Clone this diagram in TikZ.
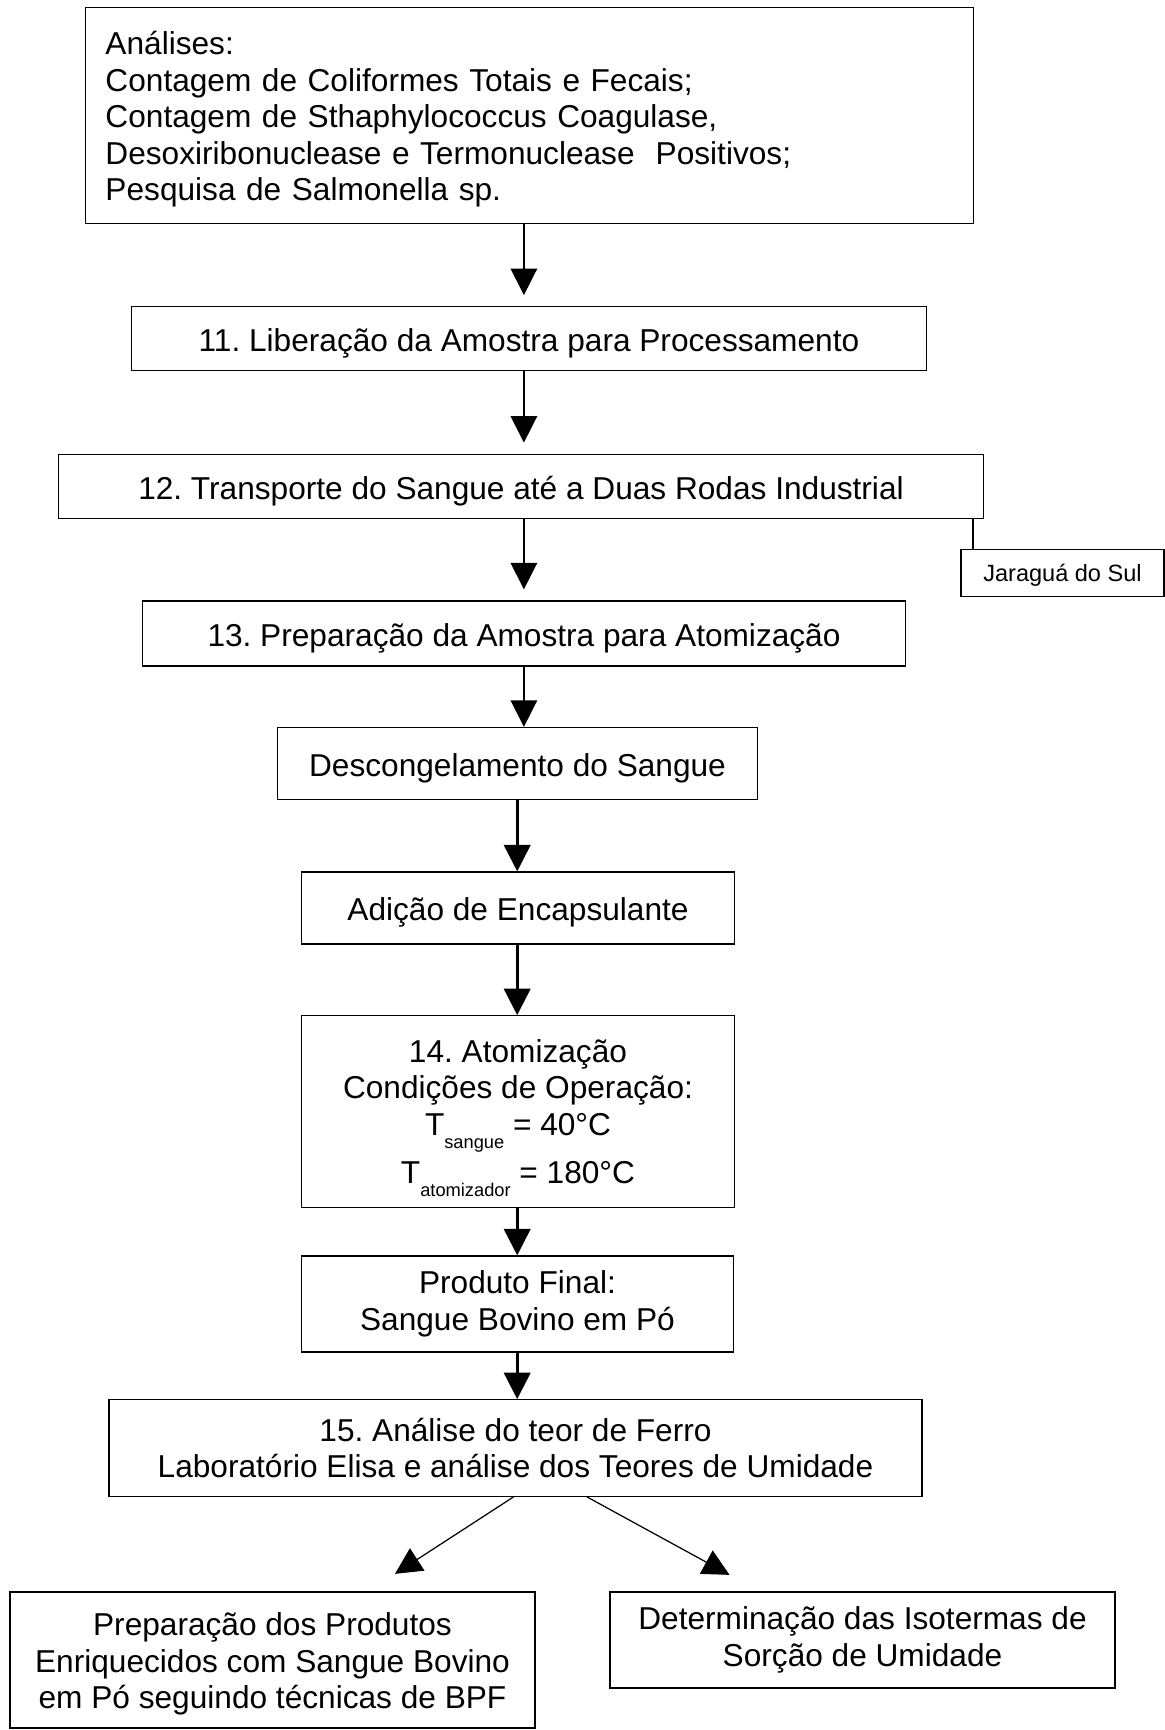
\documentclass[tikz,border=0pt]{standalone}
\usepackage{fontspec}
\setmainfont{Liberation Sans}
\usetikzlibrary{arrows.meta,positioning,calc}
\frenchspacing

\newcommand{\subtxt}[1]{\raisebox{-0.26cm}[0pt][0pt]{\fontsize{10.4}{12}\selectfont #1}}

\begin{document}
\begin{tikzpicture}[
    font=\fontsize{18}{20.8}\selectfont,
    box/.style={
        draw=black,
        line width=0.75pt,
        inner sep=0pt,
        align=center
    },
    line/.style={
        box,
        text height=18.4pt,
        text depth=3.8pt
    },
    tag/.style={
        draw=black,
        line width=0.75pt,
        inner sep=0pt,
        text height=12.9pt,
        text depth=2.8pt,
        font=\fontsize{13.4}{15}\selectfont
    },
    arr/.style={-{Triangle[length=0.53cm,width=0.53cm]}, line width=0.85pt},
    arrb/.style={arr, line width=1.5pt},
    arrd/.style={arr, line width=0.7pt}
]
\useasboundingbox (0,0) rectangle (23.3,-34.6);

% analyses
\node[box, minimum width=17.76cm, minimum height=4.32cm, text width=16.96cm, align=left] (ana) at (10.59,-2.31)
{\rule{0pt}{0.62cm}Análises:\\
Contagem de Coliformes Totais e Fecais;\\
Contagem de Sthaphylococcus Coagulase,\\
Desoxiribonuclease e Termonuclease\ \ Positivos;\\
Pesquisa de Salmonella sp.};

% steps 11 to 13
\node[line, minimum width=15.89cm, minimum height=1.29cm] (lib) at (10.58,-6.77)
{11. Liberação da Amostra para Processamento};

\node[line, minimum width=18.51cm, minimum height=1.29cm] (trans) at (10.42,-9.73)
{12. Transporte do Sangue até a Duas Rodas Industrial};

\node[tag, minimum width=4.06cm, minimum height=0.95cm] (jar) at (21.25,-11.46)
{Jaraguá do Sul};

\node[line, minimum width=15.26cm, minimum height=1.30cm] (prep) at (10.48,-12.67)
{13. Preparação da Amostra para Atomização};

\node[line, minimum width=9.61cm, minimum height=1.44cm] (desc) at (10.35,-15.27)
{Descongelamento do Sangue};

\node[line, minimum width=8.65cm, minimum height=1.44cm] (enc) at (10.36,-18.16)
{Adição de Encapsulante};

% atomization
\node[box, minimum width=8.65cm, minimum height=3.83cm] (atom) at (10.36,-22.23)
{14. Atomização\\
Condições de Operação:\\
T\subtxt{sangue} = 40°C\\[0.23cm]
T\subtxt{atomizador} = 180°C};

\node[box, minimum width=8.64cm, minimum height=1.92cm] (final) at (10.35,-26.08)
{Produto Final:\\
Sangue Bovino em Pó};

\node[box, minimum width=16.26cm, minimum height=1.93cm] (ferro) at (10.31,-28.96)
{15. Análise do teor de Ferro\\
Laboratório Elisa e análise dos Teores de Umidade};

% last row
\node[box, minimum width=10.5cm, minimum height=2.72cm] (prod) at (5.45,-33.2)
{\rule{0pt}{0.62cm}Preparação dos Produtos\\
Enriquecidos com Sangue Bovino\\
em Pó seguindo técnicas de BPF};

\node[box, minimum width=10.1cm, minimum height=1.92cm] (iso) at (17.25,-32.8)
{Determinação das Isotermas de\\
Sorção de Umidade};

% arrows
\coordinate (up) at (10.478,0);
\coordinate (lo) at (10.344,0);

\draw[arr, shorten >=0.21cm] (ana.south -| up) -- (lib.north -| up);
\draw[arr, shorten >=0.22cm] (lib.south -| up) -- (trans.north -| up);
\draw[arr, shorten >=0.22cm] (trans.south -| up) -- (prep.north -| up);
\draw[arr] (prep.south -| up) -- (desc.north -| up);
\draw[arrb] (desc.south -| lo) -- (enc.north -| lo);
\draw[arrb] (enc.south -| lo) -- (atom.north -| lo);
\draw[arrb] (atom.south -| lo) -- (final.north -| lo);
\draw[arrb] (final.south -| lo) -- (ferro.north -| lo);

\draw[line width=0.85pt] ([xshift=-0.23cm]trans.south east) -- ([xshift=-0.23cm]trans.south east |- jar.north);

\draw[arrd] ([xshift=-0.04cm]ferro.south) -- ([xshift=2.45cm,yshift=0.35cm]prod.north);
\draw[arrd] ([xshift=1.43cm]ferro.south) -- ([xshift=-2.66cm,yshift=0.33cm]iso.north);

\end{tikzpicture}
\end{document}
